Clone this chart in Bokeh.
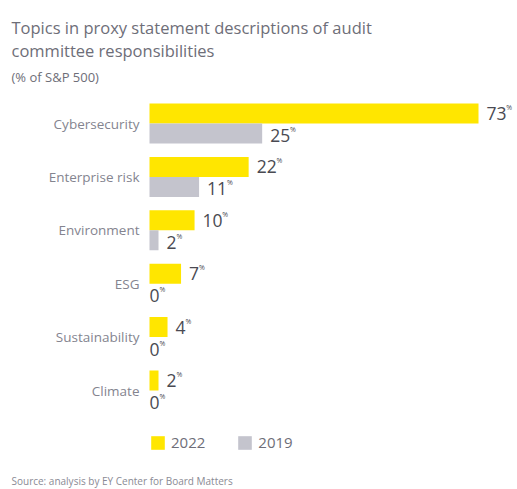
from bokeh.plotting import figure
from bokeh.models import Range1d, ColumnDataSource, Label, Legend, LegendItem
from bokeh.core.properties import value
from bokeh.embed import file_html
from bokeh.resources import INLINE

categories = ["Cybersecurity", "Enterprise risk", "Environment", "ESG", "Sustainability", "Climate"]
values_2022 = [73, 22, 10, 7, 4, 2]
values_2019 = [25, 11, 2, 0, 0, 0]
series_names = ["2022", "2019"]
title_lines = ["Topics in proxy statement descriptions of audit", "committee responsibilities"]
subtitle = "(% of S&P 500)"
source_note = "Source: analysis by EY Center for Board Matters"

YELLOW = "#FFE600"
GRAY = "#C4C4CD"
FONT = "Open Sans"

W, H = 517, 489
left_px = 149          # x pixel where 0% sits
px_per = 4.507         # pixels per percentage point
top_px = 123           # y pixel of first category centre
step = 53.4            # pixels per category
bar_h = 20 / step

p = figure(width=W, height=H, output_backend="svg", toolbar_location=None,
           x_range=Range1d(-left_px / px_per, (W - left_px) / px_per),
           y_range=Range1d((H - top_px) / step, -top_px / step),
           min_border=0, x_axis_location=None, y_axis_location=None)
p.grid.visible = False
p.outline_line_color = None
p.background_fill_color = "white"

idx = list(range(len(categories)))
y22 = [i - bar_h / 2 for i in idx]
y19 = [i + bar_h / 2 for i in idx]

def digits_w(vals, dw=9.9):
    return [len(str(v)) * dw for v in vals]

src22 = ColumnDataSource(dict(y=y22, v=values_2022, lab=[str(v) for v in values_2022],
                              off=[8 if v > 0 else 0 for v in values_2022]))
src19 = ColumnDataSource(dict(y=y19, v=values_2019, lab=[str(v) for v in values_2019],
                              off=[8 if v > 0 else 0 for v in values_2019]))
for s in (src22, src19):
    s.data["poff"] = [o + w for o, w in zip(s.data["off"], digits_w(s.data["v"]))]

r22 = p.hbar(y="y", right="v", left=0, height=bar_h, source=src22, fill_color=YELLOW, line_color=None)
r19 = p.hbar(y="y", right="v", left=0, height=bar_h, source=src19, fill_color=GRAY, line_color=None)

for s, yo in ((src22, 0), (src19, 2)):
    p.text(x="v", y="y", text="lab", source=s, x_offset="off", y_offset=yo,
           text_font=value(FONT), text_font_size="17.5px", text_color="#4a4a52",
           text_align="left", text_baseline="middle")
    p.text(x="v", y="y", text=value("%"), source=s, x_offset="poff", y_offset=yo - 6,
           text_font=value(FONT), text_font_size="7px", text_color="#4a4a52",
           text_align="left", text_baseline="middle")

cat_src = ColumnDataSource(dict(y=idx, c=categories, x=[0] * len(idx)))
p.text(x="x", y="y", text="c", source=cat_src, x_offset=-10,
       text_font=value(FONT), text_font_size="13.5px", text_color="#84848f",
       text_align="right", text_baseline="middle")

for i, line in enumerate(title_lines):
    p.add_layout(Label(x=11, y=H - 27 - 23 * i, x_units="screen", y_units="screen", text=line,
                       text_font=FONT, text_font_size="16.5px", text_color="#6e6e78",
                       text_baseline="alphabetic"))
p.add_layout(Label(x=11, y=H - 76, x_units="screen", y_units="screen", text=subtitle,
                   text_font=FONT, text_font_size="13px", text_color="#6e6e78",
                   text_baseline="alphabetic"))
p.add_layout(Label(x=11, y=H - 480, x_units="screen", y_units="screen", text=source_note,
                   text_font=FONT, text_font_size="10px", text_color="#8a8a94",
                   text_baseline="alphabetic"))

legend = Legend(items=[LegendItem(label=series_names[0], renderers=[r22]),
                       LegendItem(label=series_names[1], renderers=[r19])],
                orientation="horizontal", location=(left_px, H - 452),
                glyph_width=17, glyph_height=17, label_standoff=5, spacing=31,
                padding=0, margin=0, border_line_color=None, background_fill_alpha=0,
                label_text_font=FONT, label_text_font_size="15px", label_text_color="#6e6e78",
                label_height=17)
p.add_layout(legend)

open("out.html", "w").write(file_html(p, INLINE))
